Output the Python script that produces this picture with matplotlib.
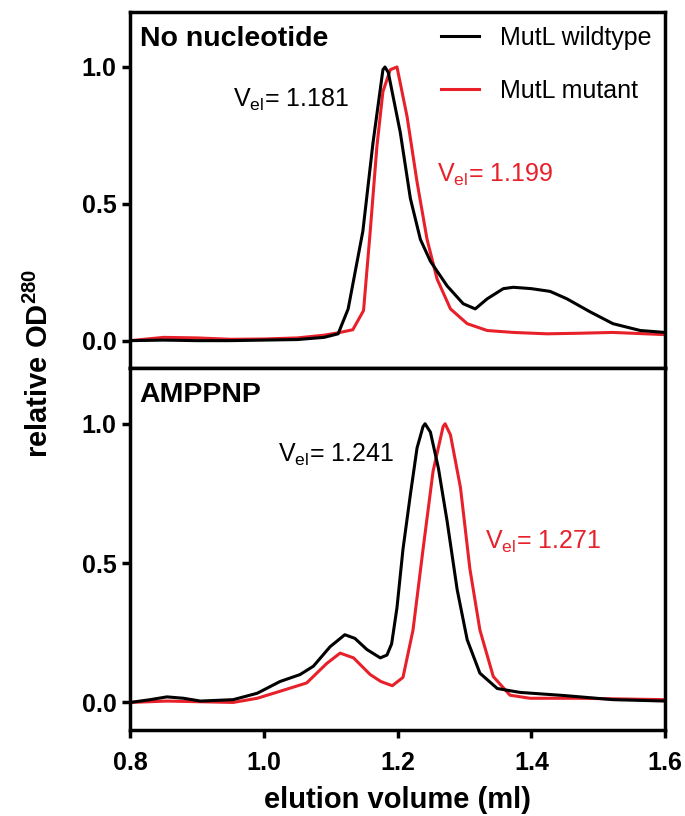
import matplotlib.pyplot as plt
from matplotlib.ticker import MultipleLocator

plt.rcParams['font.family'] = ['Liberation Sans', 'DejaVu Sans']
plt.rcParams['mathtext.fontset'] = 'custom'
plt.rcParams['mathtext.rm'] = 'Liberation Sans'
plt.rcParams['mathtext.bf'] = 'Liberation Sans:bold'

RED = '#e8202a'

# --- no nucleotide ---
wt_nn_x = [0.80, 0.85, 0.90, 0.95, 1.00, 1.05, 1.09, 1.111, 1.126, 1.148, 1.163,
           1.178, 1.181, 1.186, 1.204, 1.219, 1.234, 1.249, 1.274, 1.298, 1.316,
           1.334, 1.358, 1.373, 1.40, 1.428, 1.453, 1.488, 1.522, 1.563, 1.60]
wt_nn_y = [0.0, 0.002, 0.0, 0.0, 0.002, 0.004, 0.012, 0.025, 0.116, 0.40, 0.72,
           0.99, 1.0, 0.98, 0.76, 0.52, 0.37, 0.29, 0.20, 0.135, 0.116,
           0.153, 0.19, 0.195, 0.19, 0.18, 0.153, 0.105, 0.062, 0.037, 0.03]
mu_nn_x = [0.80, 0.85, 0.90, 0.95, 1.00, 1.05, 1.09, 1.114, 1.133, 1.149, 1.159,
           1.169, 1.178, 1.189, 1.199, 1.214, 1.229, 1.244, 1.259, 1.279, 1.304,
           1.334, 1.373, 1.423, 1.47, 1.522, 1.60]
mu_nn_y = [0.0, 0.012, 0.010, 0.005, 0.006, 0.010, 0.02, 0.03, 0.04, 0.11, 0.40,
           0.71, 0.91, 0.99, 1.0, 0.82, 0.58, 0.37, 0.225, 0.116, 0.062,
           0.037, 0.03, 0.025, 0.027, 0.03, 0.022]

# --- AMPPNP ---
wt_amp_x = [0.80, 0.83, 0.855, 0.88, 0.905, 0.954, 0.99, 1.024, 1.054, 1.074, 1.099,
            1.121, 1.136, 1.154, 1.174, 1.184, 1.191, 1.199, 1.208, 1.219, 1.229,
            1.238, 1.241, 1.249, 1.261, 1.274, 1.289, 1.304, 1.323, 1.349, 1.383,
            1.448, 1.522, 1.60]
wt_amp_y = [0.0, 0.01, 0.02, 0.015, 0.005, 0.01, 0.033, 0.075, 0.10, 0.13, 0.20,
            0.243, 0.23, 0.19, 0.16, 0.17, 0.21, 0.34, 0.55, 0.745, 0.913,
            0.99, 1.0, 0.97, 0.84, 0.65, 0.405, 0.225, 0.105, 0.05, 0.036,
            0.025, 0.01, 0.005]
mu_amp_x = [0.80, 0.855, 0.954, 0.99, 1.024, 1.064, 1.094, 1.114, 1.134, 1.159,
            1.175, 1.192, 1.208, 1.223, 1.238, 1.253, 1.268, 1.271, 1.279, 1.294,
            1.308, 1.323, 1.343, 1.368, 1.398, 1.472, 1.60]
mu_amp_y = [0.0, 0.005, 0.0, 0.015, 0.04, 0.07, 0.14, 0.177, 0.16, 0.10,
            0.075, 0.06, 0.09, 0.26, 0.55, 0.83, 0.99, 1.0, 0.96, 0.77,
            0.48, 0.26, 0.093, 0.026, 0.015, 0.015, 0.01]

panels = [
    ('No nucleotide', wt_nn_x, wt_nn_y, mu_nn_x, mu_nn_y,
     ('1.181', 0.954, 0.88), ('1.199', 1.259, 0.607)),
    ('AMPPNP', wt_amp_x, wt_amp_y, mu_amp_x, mu_amp_y,
     ('1.241', 1.021, 0.89), ('1.271', 1.331, 0.576)),
]

fig = plt.figure(figsize=(6.85, 8.16), dpi=100)
ax_top = fig.add_axes([0.19, 0.549, 0.781, 0.436])
ax_bot = fig.add_axes([0.19, 0.105, 0.781, 0.444], sharex=ax_top)

for ax, (title, wx, wy, mx, my, wlab, mlab) in zip([ax_top, ax_bot], panels):
    ax.plot(wx, wy, color='black', lw=2.2, label='MutL wildtype', zorder=3)
    ax.plot(mx, my, color=RED, lw=2.2, label='MutL mutant', zorder=2)
    ax.set_xlim(0.8, 1.6)
    ax.set_ylim(-0.1, 1.2)
    ax.yaxis.set_major_locator(MultipleLocator(0.5))
    ax.xaxis.set_major_locator(MultipleLocator(0.2))
    for s in ax.spines.values():
        s.set_linewidth(2.5)
    ax.tick_params(axis='both', width=2.5, length=6, labelsize=18, pad=4)
    ax.tick_params(axis='x', pad=9)
    for lab in ax.get_yticklabels() + ax.get_xticklabels():
        lab.set_fontweight('bold')
    ax.text(0.018, 0.925, title, transform=ax.transAxes, fontsize=20.5,
            fontweight='bold', va='center', ha='left')
    ax.text(wlab[1], wlab[2], r'V$_{\mathrm{el}}$= ' + wlab[0], fontsize=18,
            color='black', va='center', ha='left')
    ax.text(mlab[1], mlab[2], r'V$_{\mathrm{el}}$= ' + mlab[0], fontsize=18,
            color=RED, va='center', ha='left')

ax_top.tick_params(axis='x', bottom=False, labelbottom=False)
ax_top.legend(loc='upper right', bbox_to_anchor=(1.0, 1.0), frameon=False,
              fontsize=18, handlelength=1.5, handletextpad=0.85,
              labelspacing=1.15, borderaxespad=0.1, borderpad=0.45)

ax_bot.set_xlabel('elution volume (ml)', fontsize=21, fontweight='bold',
                  labelpad=8)
fig.text(0.058, 0.554, r'relative OD$^{\mathbf{280}}$', rotation=90,
         fontsize=21, fontweight='bold', va='center', ha='center')

fig.savefig('out.png', dpi=100)
